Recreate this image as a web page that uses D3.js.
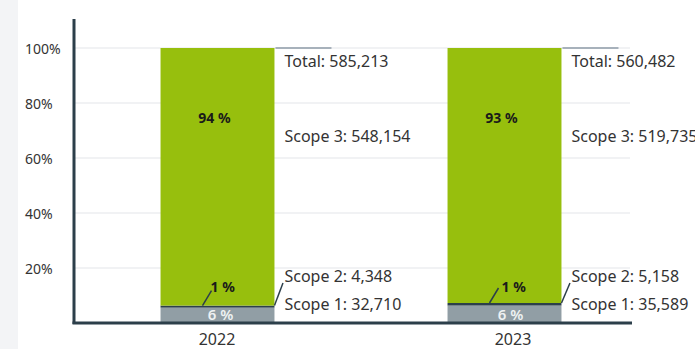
<!DOCTYPE html>
<html>
<head>
<meta charset="utf-8">
<script src="https://cdn.jsdelivr.net/npm/d3@7"></script>
<style>
  html, body { margin: 0; padding: 0; background: #ffffff; }
  svg { display: block; font-family: "Noto Sans", "Open Sans", sans-serif; }
</style>
</head>
<body>
<svg id="chart" width="695" height="349"></svg>
<script>
// Emissions by scope, per year
const years = ["2022", "2023"];
const scope1 = [32710, 35589];
const scope2 = [4348, 5158];
const scope3 = [548154, 519735];
const totals = [585213, 560482];
const yTicks = [20, 40, 60, 80, 100];

const scopeNames = ["Scope 1", "Scope 2", "Scope 3"];
const scopeColors = ["#919ea5", "#2c3f4a", "#97bf0d"];

const W = 695, H = 349;
const plot = { left: 74, right: 632, top: 48, bottom: 323 };

const svg = d3.select("#chart");

// light band on the left edge
svg.append("rect").attr("x", 0).attr("y", 0).attr("width", 18).attr("height", H).attr("fill", "#f3f4f6");

const y = d3.scaleLinear().domain([0, 100]).range([plot.bottom, plot.top]);
const x = d3.scaleBand().domain(years).range([74, 648]);
const xLabels = d3.scaleBand().domain(years).range([69, 661]);
const barW = x.bandwidth() * 0.397;

// grid lines
svg.append("g").selectAll("line").data(yTicks).join("line")
  .attr("x1", plot.left).attr("x2", 630)
  .attr("y1", d => y(d)).attr("y2", d => y(d))
  .attr("stroke", "#f1f2f4").attr("stroke-width", 2);

// y tick labels
svg.append("g").selectAll("text").data(yTicks).join("text")
  .attr("x", 25).attr("y", d => y(d) + 2)
  .attr("dominant-baseline", "middle")
  .attr("font-size", 14).attr("fill", "#333")
  .text(d => d + "%");

// stacked shares
const rows = years.map((yr, i) => ({
  year: yr, total: totals[i],
  "Scope 1": scope1[i] / totals[i] * 100,
  "Scope 2": scope2[i] / totals[i] * 100,
  "Scope 3": scope3[i] / totals[i] * 100,
  raw: [scope1[i], scope2[i], scope3[i]]
}));
const stack = d3.stack().keys(scopeNames)(rows);

const bx = d => x(d) + x.bandwidth() / 2 - barW / 2;

stack.forEach((layer, k) => {
  svg.append("g").selectAll("rect").data(layer).join("rect")
    .attr("x", d => bx(d.data.year))
    .attr("width", barW)
    .attr("y", d => y(d[1]))
    .attr("height", d => y(d[0]) - y(d[1]))
    .attr("fill", scopeColors[k]);
});

// axes lines
svg.append("line").attr("x1", plot.left).attr("x2", plot.left)
  .attr("y1", 19).attr("y2", plot.bottom + 1)
  .attr("stroke", "#2c3f4a").attr("stroke-width", 3);
svg.append("line").attr("x1", plot.left - 1.5).attr("x2", plot.right)
  .attr("y1", plot.bottom).attr("y2", plot.bottom)
  .attr("stroke", "#2c3f4a").attr("stroke-width", 3);

// year labels
svg.append("g").selectAll("text").data(years).join("text")
  .attr("x", d => xLabels(d) + xLabels.bandwidth() / 2)
  .attr("y", 340.5).attr("dominant-baseline", "middle")
  .attr("text-anchor", "middle").attr("font-size", 16).attr("fill", "#333")
  .text(d => d);

const pct = v => Math.round(v) + " %";
const fmt = d3.format(",");

rows.forEach((r, i) => {
  const cx = x(r.year) + x.bandwidth() / 2;
  const right = bx(r.year) + barW;
  const s2Top = y(stack[1][i][1]);
  const s3Top = y(stack[2][i][1]);

  // share labels inside the bar
  svg.append("text").attr("x", cx - 3).attr("y", s3Top + 71)
    .attr("text-anchor", "middle").attr("dominant-baseline", "middle")
    .attr("font-size", 14).attr("font-weight", 700).attr("fill", "#1a1a1a")
    .text(pct(r["Scope 3"]));

  svg.append("line")
    .attr("x1", cx - 15).attr("y1", s2Top)
    .attr("x2", cx - 6).attr("y2", s2Top - 15)
    .attr("stroke", "#2c3f4a").attr("stroke-width", 1.5);
  svg.append("text").attr("x", cx - 7 + i * 4).attr("y", plot.bottom - 35)
    .attr("dominant-baseline", "middle")
    .attr("font-size", 14).attr("font-weight", 700).attr("fill", "#1a1a1a")
    .text(pct(r["Scope 2"]));

  svg.append("text").attr("x", cx + 3 + i * 3).attr("y", plot.bottom - 7)
    .attr("text-anchor", "middle").attr("dominant-baseline", "middle")
    .attr("font-size", 15).attr("font-weight", 600).attr("fill", "#eef1f2")
    .text(pct(r["Scope 1"]));

  // value labels to the right of the bar
  svg.append("line")
    .attr("x1", right + 1).attr("x2", right + 57)
    .attr("y1", s3Top).attr("y2", s3Top)
    .attr("stroke", "#a7b1bb").attr("stroke-width", 2);
  svg.append("line")
    .attr("x1", right).attr("y1", s2Top)
    .attr("x2", right + 8.5).attr("y2", plot.bottom - 40)
    .attr("stroke", "#2c3f4a").attr("stroke-width", 1.5);

  const tx = right + 10;
  const labels = [
    { t: "Total: " + fmt(r.total), yy: s3Top + 15 },
    { t: "Scope 3: " + fmt(r.raw[2]), yy: s3Top + 90 },
    { t: "Scope 2: " + fmt(r.raw[1]), yy: plot.bottom - 45 },
    { t: "Scope 1: " + fmt(r.raw[0]), yy: plot.bottom - 17 }
  ];
  labels.forEach(l => {
    svg.append("text").attr("x", tx).attr("y", l.yy)
      .attr("dominant-baseline", "middle")
      .attr("font-size", 16).attr("fill", "#333")
      .text(l.t);
  });
});
</script>
</body>
</html>
